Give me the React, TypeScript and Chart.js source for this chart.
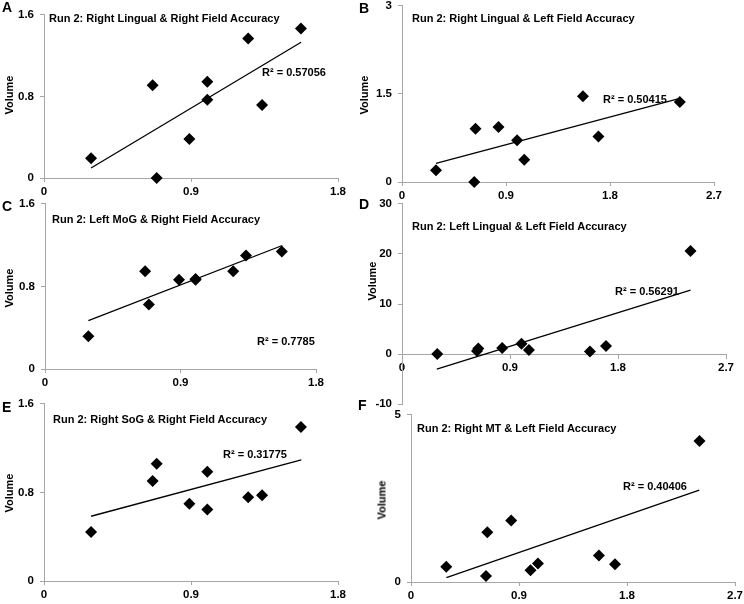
import { useEffect, useRef } from "react";
import { Chart, registerables } from "chart.js";

Chart.register(...registerables);

// accuracy values shared by the panels (x)
const rightFieldAcc = [0.288, 0.665, 0.69, 0.89, 1.0, 1.0, 1.25, 1.335, 1.573];
const leftFieldAcc = [0.294, 0.625, 0.636, 0.835, 0.996, 1.058, 1.566, 1.7, 2.404];

// volumes (y)
const volA = [0.193, 0.911, 0, 0.382, 0.944, 0.767, 1.368, 0.715, 1.466];
const volB = [0.199, 0, 0.909, 0.937, 0.71, 0.38, 1.46, 0.773, 1.364];
const volC = [0.317, 0.947, 0.624, 0.866, 0.873, 0.866, 0.947, 1.099, 1.138];
const volD = [0, 0.6, 1.1, 1.2, 2.07, 0.8, 0.53, 1.6, 20.6];
const volE = [0.443, 0.904, 1.06, 0.699, 0.988, 0.645, 0.756, 0.774, 1.392];
const volF = [0.46, 0.18, 1.49, 1.84, 0.35, 0.55, 0.79, 0.53, 4.22];

// linear trend lines, endpoints
const trendA = [[0.288, 0.098], [1.574, 1.332]];
const trendB = [[0.294, 0.318], [2.405, 1.426]];
const trendC = [[0.288, 0.468], [1.576, 1.197]];
const trendD = [[0.29, -3.0], [2.404, 12.78]];
const trendE = [[0.288, 0.585], [1.575, 1.094]];
const trendF = [[0.295, 0.13], [2.402, 2.75]];

// ticks
const xTicksRight = [0, 0.9, 1.8];
const xLabelsRight = ["0", "0.9", "1.8"];
const xTicksLeft = [0, 0.9, 1.8, 2.7];
const xLabelsLeft = ["0", "0.9", "1.8", "2.7"];
const yTicks16 = [0, 0.8, 1.6];
const yLabels16 = ["0", "0.8", "1.6"];
const yTicksB = [0, 1.5, 3];
const yLabelsB = ["0", "1.5", "3"];
const yTicksD = [-10, 0, 10, 20, 30];
const yLabelsD = ["-10", "0", "10", "20", "30"];
const yTicksF = [0, 5];
const yLabelsF = ["0", "5"];

const titles = [
  "Run 2: Right Lingual & Right Field Accuracy",
  "Run 2: Right Lingual & Left Field Accuracy",
  "Run 2: Left MoG & Right Field Accuracy",
  "Run 2: Left Lingual & Left Field Accuracy",
  "Run 2: Right SoG & Right Field Accuracy",
  "Run 2: Right MT & Left Field Accuracy",
];
const rSquared = ["R² = 0.57056", "R² = 0.50415", "R² = 0.7785", "R² = 0.56291", "R² = 0.31775", "R² = 0.40406"];
const letters = ["A", "B", "C", "D", "E", "F"];

const AXIS = "#a6a6a6";
const FONT = '"Liberation Sans", Arial, sans-serif';
const NARROW = '"Liberation Sans Narrow", "Arial Narrow", "Liberation Sans", sans-serif';

interface PanelCfg {
  plot: { l: number; t: number; r: number; b: number };
  xs: number[];
  ys: number[];
  trend: number[][];
  xTicks: number[];
  xLabels: string[];
  yTicks: number[];
  yLabels: string[];
  xAtZero?: boolean;
  title: [number, number];
  r2: [number, number];
  letter: [number, number];
  vol: [number, number];
}

const panels: PanelCfg[] = [
  { plot: { l: 44, t: 15, r: 338, b: 178 }, xs: rightFieldAcc, ys: volA, trend: trendA,
    xTicks: xTicksRight, xLabels: xLabelsRight, yTicks: yTicks16, yLabels: yLabels16,
    title: [49, 17.5], r2: [262, 72], letter: [2, 7], vol: [9, 95] },
  { plot: { l: 402, t: 6, r: 714, b: 182 }, xs: leftFieldAcc, ys: volB, trend: trendB,
    xTicks: xTicksLeft, xLabels: xLabelsLeft, yTicks: yTicksB, yLabels: yLabelsB,
    title: [412, 18], r2: [603, 99], letter: [359, 8], vol: [364, 95] },
  { plot: { l: 45, t: 204, r: 316, b: 369 }, xs: rightFieldAcc, ys: volC, trend: trendC,
    xTicks: xTicksRight, xLabels: xLabelsRight, yTicks: yTicks16, yLabels: yLabels16,
    title: [52, 218.5], r2: [257, 341], letter: [2, 206], vol: [9, 288] },
  { plot: { l: 402, t: 204, r: 726, b: 404 }, xs: leftFieldAcc, ys: volD, trend: trendD,
    xTicks: xTicksLeft, xLabels: xLabelsLeft, yTicks: yTicksD, yLabels: yLabelsD, xAtZero: true,
    title: [412, 225.5], r2: [615, 291], letter: [359, 204], vol: [372, 281] },
  { plot: { l: 44, t: 404, r: 338, b: 581 }, xs: rightFieldAcc, ys: volE, trend: trendE,
    xTicks: xTicksRight, xLabels: xLabelsRight, yTicks: yTicks16, yLabels: yLabels16,
    title: [53, 418.5], r2: [223, 454], letter: [2, 407], vol: [9, 493] },
  { plot: { l: 411, t: 415, r: 735, b: 582 }, xs: leftFieldAcc, ys: volF, trend: trendF,
    xTicks: xTicksLeft, xLabels: xLabelsLeft, yTicks: yTicksF, yLabels: yLabelsF,
    title: [417, 428], r2: [623, 486], letter: [358, 405], vol: [382, 500] },
];

const Y_W = 40;
const X_H = 24;
const PAD_T = 8;
const PAD_R = 10;

function Panel({ cfg }: { cfg: PanelCfg }) {
  const ref = useRef<HTMLCanvasElement>(null);
  const boxRef = useRef<HTMLDivElement>(null);
  const { plot } = cfg;

  useEffect(() => {
    if (!ref.current || !boxRef.current) return;
    const tickFont = { family: FONT, size: 11.5, weight: "bold" as const };
    const chart = new Chart(ref.current, {
      type: "scatter",
      data: {
        datasets: [
          {
            data: cfg.xs.map((x, i) => ({ x, y: cfg.ys[i] })),
            pointStyle: "rectRot",
            pointRadius: 6,
            backgroundColor: "#000",
            borderColor: "#000",
            borderWidth: 0,
            clip: false,
          },
          {
            data: cfg.trend.map(([x, y]) => ({ x, y })),
            showLine: true,
            pointRadius: 0,
            borderColor: "#000",
            borderWidth: 1.3,
            clip: false,
          },
        ],
      },
      options: {
        animation: false,
        responsive: true,
        maintainAspectRatio: false,
        layout: { padding: { top: PAD_T, right: PAD_R, left: 0, bottom: 0 } },
        plugins: { legend: { display: false }, tooltip: { enabled: false } },
        scales: {
          x: {
            type: "linear",
            min: 0,
            max: cfg.xTicks[cfg.xTicks.length - 1],
            position: cfg.xAtZero ? { y: 0 } : "bottom",
            afterBuildTicks: (s) => { s.ticks = cfg.xTicks.map((v) => ({ value: v })); },
            afterFit: (s) => { s.height = X_H; },
            ticks: {
              color: "#000",
              font: tickFont,
              padding: 3,
              maxRotation: 0,
              autoSkip: false,
              callback: (v) => cfg.xLabels[cfg.xTicks.indexOf(Number(v))] ?? "",
            },
            grid: { display: true, drawOnChartArea: false, drawTicks: true, tickLength: 4, color: AXIS },
            border: { display: true, color: AXIS, width: 1 },
          },
          y: {
            type: "linear",
            min: cfg.yTicks[0],
            max: cfg.yTicks[cfg.yTicks.length - 1],
            afterBuildTicks: (s) => { s.ticks = cfg.yTicks.map((v) => ({ value: v })); },
            afterFit: (s) => { s.width = Y_W; },
            ticks: {
              color: "#000",
              font: tickFont,
              padding: 6,
              autoSkip: false,
              callback: (v) => cfg.yLabels[cfg.yTicks.indexOf(Number(v))] ?? "",
            },
            grid: { display: true, drawOnChartArea: false, drawTicks: true, tickLength: 4, color: AXIS },
            border: { display: true, color: AXIS, width: 1 },
          },
        },
      },
    });

    // shift/resize the box so the plot area lands on the target rectangle
    const box = boxRef.current;
    const ca = chart.chartArea;
    const W = chart.width;
    const H = chart.height;
    const left = Math.round(plot.l - ca.left);
    const top = Math.round(plot.t - ca.top);
    const width = Math.round(plot.r - plot.l + ca.left + (W - ca.right));
    const height = Math.round(plot.b - plot.t + ca.top + (H - ca.bottom));
    box.style.left = left + "px";
    box.style.top = top + "px";
    box.style.width = width + "px";
    box.style.height = height + "px";
    chart.resize();

    return () => chart.destroy();
  }, [cfg]);

  const left = plot.l - Y_W;
  const top = plot.t - PAD_T;
  const width = plot.r - plot.l + Y_W + PAD_R;
  const height = plot.b - plot.t + PAD_T + X_H;

  return (
    <div ref={boxRef} style={{ position: "absolute", left, top, width, height }}>
      <canvas ref={ref} />
    </div>
  );
}

const textBase: React.CSSProperties = {
  position: "absolute",
  whiteSpace: "nowrap",
  lineHeight: 1,
  fontWeight: "bold",
  color: "#000",
};

export default function App() {
  return (
    <div style={{ position: "fixed", left: 0, top: 0, width: 744, height: 604, background: "#fff", overflow: "hidden" }}>
      {panels.map((p, i) => (
        <Panel key={i} cfg={p} />
      ))}
      {panels.map((p, i) => (
        <div key={"t" + i}>
          <span style={{ ...textBase, left: p.title[0], top: p.title[1], transform: "translateY(-50%)", fontFamily: NARROW, fontSize: 11 }}>
            {titles[i]}
          </span>
          <span style={{ ...textBase, left: p.r2[0], top: p.r2[1], transform: "translateY(-50%)", fontFamily: NARROW, fontSize: 11 }}>
            {rSquared[i]}
          </span>
          <span style={{ ...textBase, left: p.letter[0], top: p.letter[1], transform: "translateY(-50%)", fontFamily: FONT, fontSize: 14 }}>
            {letters[i]}
          </span>
          <span style={{ ...textBase, left: p.vol[0], top: p.vol[1], transform: "translate(-50%, -50%) rotate(-90deg)", fontFamily: FONT, fontSize: 11 }}>
            Volume
          </span>
        </div>
      ))}
    </div>
  );
}
